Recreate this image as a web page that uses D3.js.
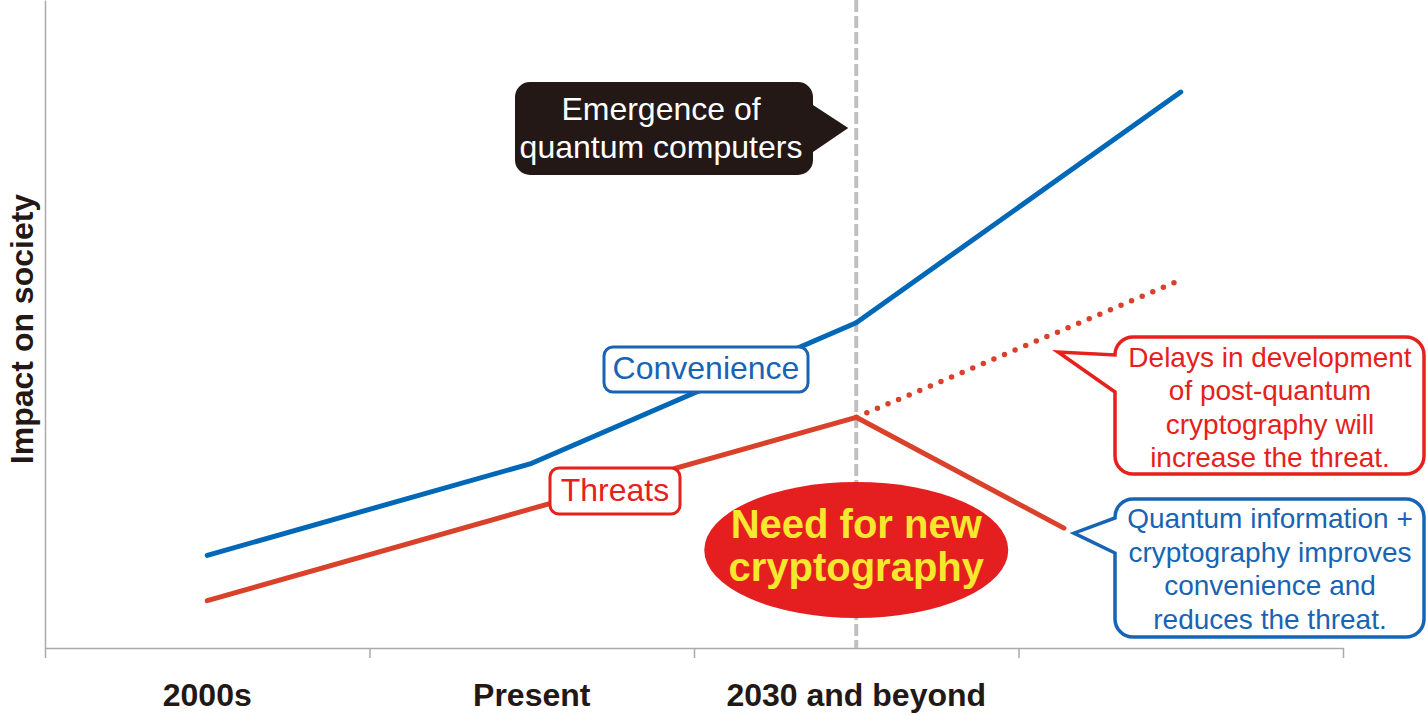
<!DOCTYPE html>
<html>
<head>
<meta charset="utf-8">
<script src="https://cdn.jsdelivr.net/npm/d3@7"></script>
<style>
  body { margin: 0; background: #fff; }
  svg { display: block; font-family: "Liberation Sans", Arial, Helvetica, sans-serif; }
</style>
</head>
<body>
<div id="chart"></div>
<script>
// periods on the x axis (index positions, one band each)
const periods = ["2000s", "Present", "2030 and beyond"];
const periodIdx = [0, 1, 2];
const bandEdges = [-0.5, 0.5, 1.5, 2.5, 3.5];

// convenience curve
const convT = [0, 1, 2, 3];
const convV = [14.3, 28.5, 50.2, 85.8];

// threats: with new cryptography (solid) and with delays (dotted)
const threatT = [0, 1, 2, 2.64];
const threatV = [7.3, 21.5, 35.6, 18.5];
const delayT = [2, 3];
const delayV = [35.6, 56.8];

const markerT = 2; // emergence of quantum computers

const W = 1428, H = 715;
const blue = "#0068b6", red = "#d9412b", brightRed = "#e6211b", ink = "#231815";

const svg = d3.select("#chart").append("svg")
    .attr("width", W).attr("height", H);

const x = d3.scaleLinear().domain([-0.5, 3.5]).range([45, 1343]);
const y = d3.scaleLinear().domain([0, 100]).range([648, 0]);

// axes
const xAxis = svg.append("g")
    .attr("transform", `translate(0,${y(0)})`)
    .call(d3.axisBottom(x).tickValues(bandEdges).tickFormat("").tickSize(10).tickSizeOuter(0));
const yAxis = svg.append("g")
    .attr("transform", `translate(${x(-0.5)},0)`)
    .call(d3.axisLeft(y).tickValues([]).tickSizeOuter(0));
svg.selectAll(".domain, .tick line").attr("stroke", "#aaa").attr("stroke-width", 1.5);

svg.append("g").selectAll("text").data(periodIdx)
  .join("text")
    .attr("x", d => x(d))
    .attr("y", 706)
    .attr("text-anchor", "middle")
    .attr("font-size", 32).attr("font-weight", "bold")
    .attr("fill", ink)
    .text(d => periods[d]);

svg.append("text")
    .attr("transform", `translate(33,${(y(0) + y(100)) / 2 + 5}) rotate(-90)`)
    .attr("text-anchor", "middle")
    .attr("font-size", 32).attr("font-weight", "bold")
    .attr("fill", ink)
    .text("Impact on society");

// dashed marker line
svg.append("line")
    .attr("x1", x(markerT)).attr("x2", x(markerT))
    .attr("y1", y(100)).attr("y2", y(0))
    .attr("stroke", "#c0c0c0").attr("stroke-width", 4)
    .attr("stroke-dasharray", "12,4");

const line = d3.line().x(d => x(d[0])).y(d => y(d[1]));

svg.append("path")
    .attr("d", line(d3.zip(delayT, delayV)))
    .attr("fill", "none").attr("stroke", red)
    .attr("stroke-width", 5.5).attr("stroke-linecap", "round")
    .attr("stroke-dasharray", "0,11.5");

svg.append("path")
    .attr("d", line(d3.zip(threatT, threatV)))
    .attr("fill", "none").attr("stroke", red)
    .attr("stroke-width", 5).attr("stroke-linecap", "round").attr("stroke-linejoin", "round");

svg.append("path")
    .attr("d", line(d3.zip(convT, convV)))
    .attr("fill", "none").attr("stroke", blue)
    .attr("stroke-width", 5).attr("stroke-linecap", "round").attr("stroke-linejoin", "round");

// rounded box with an optional pointer on the left or right side
function callout(x0, y0, x1, y1, r, ptr) {
  const p = d3.path();
  p.moveTo(x0 + r, y0);
  p.lineTo(x1 - r, y0);
  p.arcTo(x1, y0, x1, y0 + r, r);
  if (ptr && ptr.side === "right") {
    p.lineTo(x1, ptr.a);
    p.lineTo(ptr.tx, ptr.ty);
    p.lineTo(x1, ptr.b);
  }
  p.lineTo(x1, y1 - r);
  p.arcTo(x1, y1, x1 - r, y1, r);
  p.lineTo(x0 + r, y1);
  p.arcTo(x0, y1, x0, y1 - r, r);
  if (ptr && ptr.side === "left") {
    p.lineTo(x0, ptr.b);
    p.lineTo(ptr.tx, ptr.ty);
    p.lineTo(x0, ptr.a);
  }
  p.lineTo(x0, y0 + r);
  p.arcTo(x0, y0, x0 + r, y0, r);
  p.closePath();
  return p.toString();
}

function textLines(cx, baseline, step, lines, size, color, weight) {
  const t = svg.append("text")
      .attr("text-anchor", "middle")
      .attr("font-size", size)
      .attr("font-weight", weight || "normal")
      .attr("fill", color);
  lines.forEach((s, i) => {
    t.append("tspan").attr("x", cx).attr("y", baseline + i * step).text(s);
  });
}

// emergence of quantum computers
svg.append("path")
    .attr("d", callout(515, 82, 813, 175, 15,
      {side: "right", a: 105, b: 152, tx: x(markerT) - 8, ty: 128}))
    .attr("fill", ink);
textLines(661, 120, 38, ["Emergence of", "quantum computers"], 32, "#fff");

// series labels
svg.append("path")
    .attr("d", callout(604, 347, 808, 392, 9))
    .attr("fill", "#fff").attr("stroke", "#1864b4").attr("stroke-width", 3);
textLines(706, 379, 0, ["Convenience"], 32, "#1864b4");

svg.append("path")
    .attr("d", callout(550, 468, 680, 514, 9))
    .attr("fill", "#fff").attr("stroke", brightRed).attr("stroke-width", 3);
textLines(615, 501, 0, ["Threats"], 32, brightRed);

// need for new cryptography
svg.append("ellipse")
    .attr("cx", x(markerT)).attr("cy", 550)
    .attr("rx", 152).attr("ry", 68)
    .attr("fill", "#e51f1f");
textLines(x(markerT), 538, 43, ["Need for new", "cryptography"], 40, "#f5e82e", "bold");

// scenario callouts
svg.append("path")
    .attr("d", callout(1115, 337, 1424, 474, 18,
      {side: "left", a: 355, b: 392, tx: 1058, ty: 352}))
    .attr("fill", "#fff").attr("stroke", brightRed).attr("stroke-width", 3.5);
textLines(1270, 367, 33.3,
  ["Delays in development", "of post-quantum", "cryptography will", "increase the threat."],
  28, brightRed);

svg.append("path")
    .attr("d", callout(1115, 499, 1424, 637, 18,
      {side: "left", a: 518, b: 553, tx: x(threatT[3]) + 10, ty: y(threatV[3]) + 5}))
    .attr("fill", "#fff").attr("stroke", "#1864b4").attr("stroke-width", 3.5);
textLines(1270, 528, 33.5,
  ["Quantum information +", "cryptography improves", "convenience and", "reduces the threat."],
  28, "#1864b4");
</script>
</body>
</html>
